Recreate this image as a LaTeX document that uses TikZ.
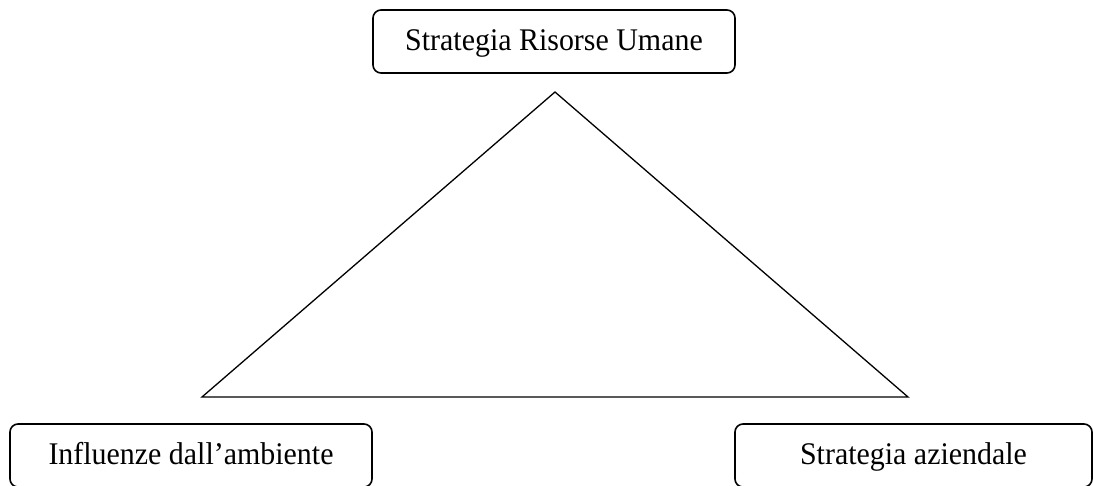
\documentclass[tikz,border=0pt]{standalone}
\usepackage{fontspec}
\setmainfont{Liberation Serif}[FakeStretch=0.95]
\begin{document}
\begin{tikzpicture}[x=1pt,y=-1pt,
  labelbox/.style={draw=black, line width=1.6pt, rounded corners=8pt,
    minimum height=63pt, inner sep=0pt, text height=24pt, text depth=6pt,
    font=\fontsize{31.5}{38}\selectfont},
  edge/.style={draw=black, line width=1.3pt}]
  \useasboundingbox (0,0) rectangle (1093,486);
  \clip (0,0) rectangle (1093,486);
  \fill[white] (0,0) rectangle (1093,486);

  % the three labelled boxes
  \node[labelbox, minimum width=362pt] (hr)  at (554,41.5) {Strategia Risorse Umane};
  \node[labelbox, minimum width=362pt] (env) at (191,455.5) {Influenze dall’ambiente};
  \node[labelbox, minimum width=357pt] (biz) at (913.5,455.5) {Strategia aziendale};

  % triangle between them
  \coordinate (apex)  at (555,92);
  \coordinate (left)  at (202,397);
  \coordinate (right) at (908,397);
  \draw[edge, line join=miter] (apex) -- (left) -- (right) -- cycle;
\end{tikzpicture}
\end{document}
